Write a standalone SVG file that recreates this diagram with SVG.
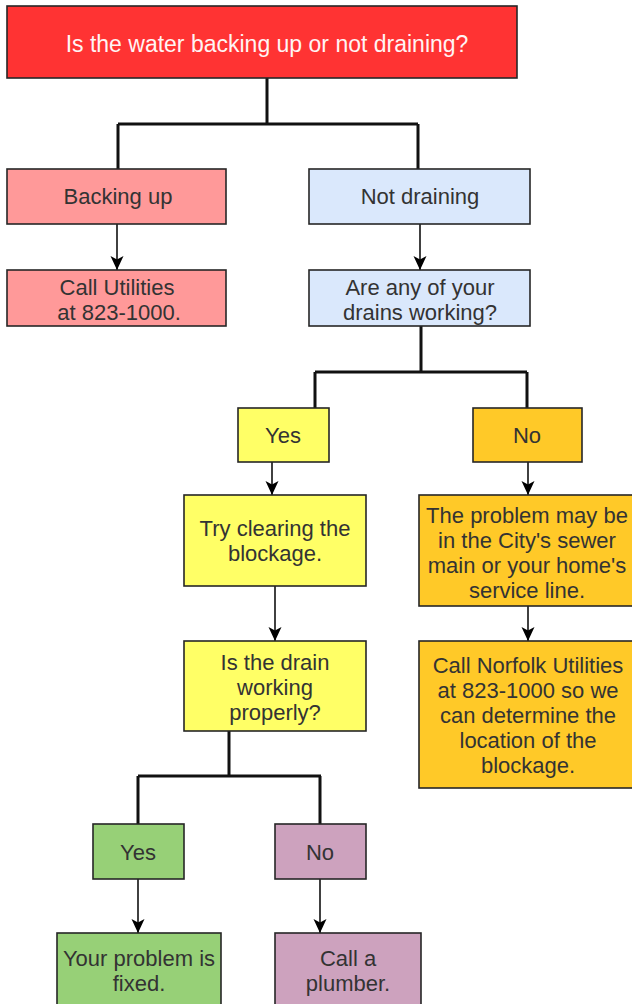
<svg xmlns="http://www.w3.org/2000/svg" width="632" height="1004" viewBox="0 0 632 1004">
<defs>
<marker id="arr" markerUnits="userSpaceOnUse" markerWidth="16" markerHeight="16" viewBox="0 0 16 16" refX="15" refY="8" orient="auto">
<path d="M1,1.5 L15,8 L1,14.5 L4.5,8 z" fill="#000"/>
</marker>
</defs>
<style>
.box{stroke:#262626;stroke-width:1.6}
.t{font-family:"Liberation Sans",Arial,sans-serif;font-size:22px;fill:#333333;text-anchor:middle}
.split{fill:none;stroke:#111;stroke-width:3}
.arrow{fill:none;stroke:#111;stroke-width:1.6;marker-end:url(#arr)}
</style>
<rect width="632" height="1004" fill="#ffffff"/>
<g id="connectors">
<path class="split" d="M267,78 V124 M118,124 H418 M118,124 V169 M418,124 V169"/>
<path class="arrow" d="M117,224 V270"/>
<path class="arrow" d="M420,224 V270"/>
<path class="split" d="M421,326 V372 M315,372 H527 M315,372 V408 M527,372 V408"/>
<path class="arrow" d="M272,462 V495"/>
<path class="arrow" d="M528,462 V495"/>
<path class="arrow" d="M275,586 V641"/>
<path class="arrow" d="M528,606 V641"/>
<path class="split" d="M229,731 V776 M138,776 H321 M138,776 V824 M320,776 V824"/>
<path class="arrow" d="M138,879 V933"/>
<path class="arrow" d="M320,879 V933"/>
</g>
<g id="n-question">
<rect class="box" x="7" y="6" width="510" height="72" fill="#FF3333"/>
<text class="t" x="267" y="52" style="fill:#FFF4F4;font-size:23px">Is the water backing up or not draining?</text>
</g>
<g id="n-backing">
<rect class="box" x="7" y="169" width="219" height="55" fill="#FF9999"/>
<text class="t" x="118" y="204">Backing up</text>
</g>
<g id="n-notdraining">
<rect class="box" x="309" y="169" width="221" height="55" fill="#DAE8FC"/>
<text class="t" x="420" y="204">Not draining</text>
</g>
<g id="n-callutilities">
<rect class="box" x="7" y="270" width="219" height="56" fill="#FF9999"/>
<text class="t" x="117" y="295">Call Utilities</text>
<text class="t" x="119" y="320">at 823-1000.</text>
</g>
<g id="n-anydrains">
<rect class="box" x="309" y="270" width="221" height="56" fill="#DAE8FC"/>
<text class="t" x="420" y="295">Are any of your</text>
<text class="t" x="420" y="320">drains working?</text>
</g>
<g id="n-yes1">
<rect class="box" x="238" y="408" width="91" height="54" fill="#FFFF66"/>
<text class="t" x="283" y="443">Yes</text>
</g>
<g id="n-no1">
<rect class="box" x="473" y="408" width="109" height="54" fill="#FFC928"/>
<text class="t" x="527" y="443">No</text>
</g>
<g id="n-tryclearing">
<rect class="box" x="184" y="495" width="182" height="91" fill="#FFFF66"/>
<text class="t" x="275" y="536">Try clearing the</text>
<text class="t" x="275" y="561">blockage.</text>
</g>
<g id="n-problem">
<rect class="box" x="419" y="495" width="220" height="111" fill="#FFC928"/>
<text class="t" x="527" y="523">The problem may be</text>
<text class="t" x="527" y="548">in the City's sewer</text>
<text class="t" x="527" y="573">main or your home's</text>
<text class="t" x="527" y="598">service line.</text>
</g>
<g id="n-isdrain">
<rect class="box" x="184" y="641" width="182" height="90" fill="#FFFF66"/>
<text class="t" x="275" y="670">Is the drain</text>
<text class="t" x="275" y="695">working</text>
<text class="t" x="275" y="720">properly?</text>
</g>
<g id="n-norfolk">
<rect class="box" x="419" y="641" width="220" height="147" fill="#FFC928"/>
<text class="t" x="528" y="673">Call Norfolk Utilities</text>
<text class="t" x="528" y="698">at 823-1000 so we</text>
<text class="t" x="528" y="723">can determine the</text>
<text class="t" x="528" y="748">location of the</text>
<text class="t" x="528" y="773">blockage.</text>
</g>
<g id="n-yes2">
<rect class="box" x="93" y="824" width="91" height="55" fill="#97D077"/>
<text class="t" x="138" y="860">Yes</text>
</g>
<g id="n-no2">
<rect class="box" x="275" y="824" width="91" height="55" fill="#CDA2BE"/>
<text class="t" x="320" y="860">No</text>
</g>
<g id="n-fixed">
<rect class="box" x="57" y="933" width="164" height="80" fill="#97D077"/>
<text class="t" x="139" y="966">Your problem is</text>
<text class="t" x="139" y="991">fixed.</text>
</g>
<g id="n-plumber">
<rect class="box" x="275" y="933" width="146" height="80" fill="#CDA2BE"/>
<text class="t" x="348" y="966">Call a</text>
<text class="t" x="348" y="991">plumber.</text>
</g>
</svg>
